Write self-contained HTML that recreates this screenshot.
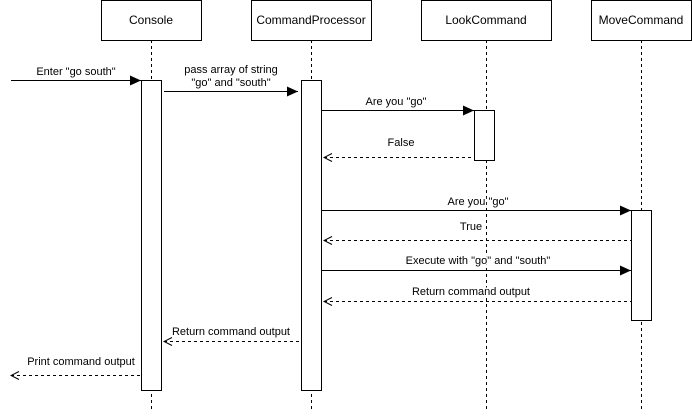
<!DOCTYPE html>
<html><head><style>body{margin:0;background:#fff}</style></head><body>
<svg width="692" height="411" xmlns="http://www.w3.org/2000/svg" font-family="Liberation Sans, sans-serif" font-size="11">
<defs>
<marker id="f" markerWidth="12" markerHeight="10" refX="11" refY="5" orient="auto" markerUnits="userSpaceOnUse"><path d="M0,0 L11,5 L0,10 Z" fill="#000"/></marker>
<marker id="o" markerWidth="10" markerHeight="10" refX="1" refY="5" orient="auto" markerUnits="userSpaceOnUse"><path d="M9,1 L1,5 L9,9" fill="none" stroke="#000" stroke-dasharray="none"/></marker>
</defs>
<g stroke="#000" fill="#fff">
<rect x="101.5" y="0.5" width="100" height="40"/>
<rect x="251.5" y="0.5" width="120" height="40"/>
<rect x="421.5" y="0.5" width="130" height="40"/>
<rect x="591.5" y="0.5" width="100" height="40"/>
<g stroke-dasharray="3,3" fill="none">
<line x1="151.5" y1="40" x2="151.5" y2="411"/>
<line x1="311.5" y1="40" x2="311.5" y2="411"/>
<line x1="486.5" y1="40" x2="486.5" y2="411"/>
<line x1="641.5" y1="40" x2="641.5" y2="411"/>
</g>
<rect x="141.5" y="80.5" width="20" height="310"/>
<rect x="301.5" y="80.5" width="20" height="310"/>
<rect x="474.5" y="110.5" width="20" height="50"/>
<rect x="631.5" y="210.5" width="20" height="110"/>
<line x1="11" y1="80.5" x2="141" y2="80.5" marker-end="url(#f)"/>
<line x1="164" y1="91.5" x2="298" y2="91.5" marker-end="url(#f)"/>
<line x1="322" y1="110.5" x2="474" y2="110.5" marker-end="url(#f)"/>
<line x1="322" y1="210.5" x2="631" y2="210.5" marker-end="url(#f)"/>
<line x1="322" y1="270.5" x2="631" y2="270.5" marker-end="url(#f)"/>
<g stroke-dasharray="3,3" stroke="#000">
<line x1="324" y1="157.5" x2="474" y2="157.5" marker-start="url(#o)"/>
<line x1="324" y1="240.5" x2="631" y2="240.5" marker-start="url(#o)"/>
<line x1="324" y1="301.5" x2="631" y2="301.5" marker-start="url(#o)"/>
<line x1="164" y1="341.5" x2="299" y2="341.5" marker-start="url(#o)"/>
<line x1="11" y1="375.5" x2="141" y2="375.5" marker-start="url(#o)"/>
</g>
</g>
<g font-size="12" text-anchor="middle">
<text x="151" y="24">Console</text>
<text x="311" y="24">CommandProcessor</text>
<text x="486" y="24">LookCommand</text>
<text x="641" y="24">MoveCommand</text>
</g>
<g text-anchor="middle" stroke="#fff" stroke-width="3" paint-order="stroke" fill="#000">
<text x="76" y="75">Enter "go south"</text>
<text x="231" y="73">pass array of string</text>
<text x="231" y="86">"go" and "south"</text>
<text x="396" y="105">Are you "go"</text>
<text x="401" y="146">False</text>
<text x="478" y="205">Are you "go"</text>
<text x="471" y="230">True</text>
<text x="478" y="264">Execute with "go" and "south"</text>
<text x="471" y="295">Return command output</text>
<text x="231" y="335">Return command output</text>
<text x="81" y="365">Print command output</text>
</g>
</svg>
</body></html>
